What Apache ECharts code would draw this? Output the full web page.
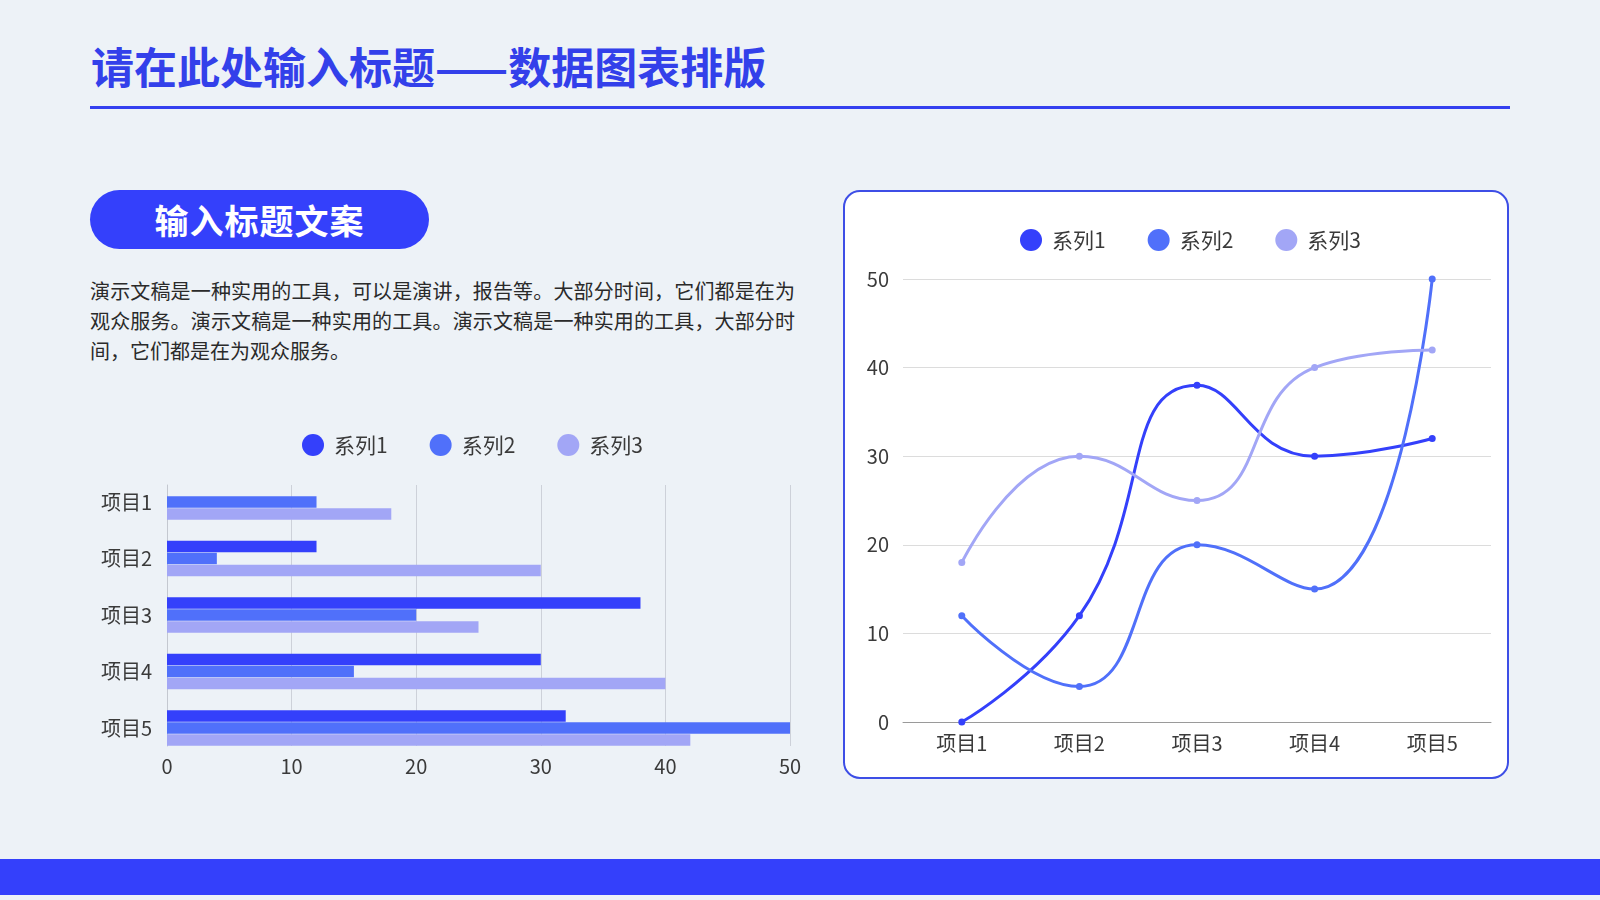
<!DOCTYPE html>
<html>
<head>
<meta charset="utf-8">
<title>数据图表排版</title>
<script src="https://cdn.jsdelivr.net/npm/echarts@6/dist/echarts.min.js"></script>
<style>
  html, body { margin: 0; padding: 0; }
  body {
    width: 1600px; height: 900px; position: relative; overflow: hidden;
    background: #edf2f7;
    font-family: "Noto Sans CJK SC", "Noto Sans", sans-serif;
  }
  .title {
    position: absolute; left: 91px; top: 44px;
    font-size: 43px; line-height: 43px; font-weight: 700;
    color: #3340ea; white-space: nowrap;
  }
  .rule { position: absolute; left: 90px; top: 106px; width: 1420px; height: 3px; background: #3440f0; }
  .pill {
    position: absolute; left: 90px; top: 190px; width: 339px; height: 59px;
    border-radius: 30px; background: #3440fb; color: #fff;
    display: flex; align-items: center; justify-content: center;
    font-size: 34px; font-weight: 700; letter-spacing: 1px;
  }
  .desc {
    position: absolute; left: 90px; top: 276px; width: 705px;
    font-size: 20px; line-height: 30px; color: #2a2a2a; text-align: justify;
    font-weight: 400;
  }
  .box {
    position: absolute; left: 843px; top: 190px; width: 662px; height: 585px;
    border: 2px solid #3d4ee6; border-radius: 17px; background: #fff;
  }
  .footer { position: absolute; left: 0; top: 859px; width: 1600px; height: 36px; background: #3440fb; }
  #chart { position: absolute; left: 0; top: 0; width: 1600px; height: 900px; }
</style>
</head>
<body>
<div class="title">请在此处输入标题——数据图表排版</div>
<div class="rule"></div>
<div class="pill">输入标题文案</div>
<div class="desc">演示文稿是一种实用的工具，可以是演讲，报告等。大部分时间，它们都是在为观众服务。演示文稿是一种实用的工具。演示文稿是一种实用的工具，大部分时间，它们都是在为观众服务。</div>
<div class="box"></div>
<div class="footer"></div>
<div id="chart"></div>
<script>
const categories = ['项目1', '项目2', '项目3', '项目4', '项目5'];
const seriesNames = ['系列1', '系列2', '系列3'];
const series1 = [0, 12, 38, 30, 32];
const series2 = [12, 4, 20, 15, 50];
const series3 = [18, 30, 25, 40, 42];
const colors = ['#3440fb', '#5070fa', '#a2a6f6'];

const font = '"Noto Sans CJK SC", "Noto Sans", sans-serif';
const labelStyle = {fontSize: 20, color: '#3a3a3a', fontFamily: font, fontWeight: 400};

let chart = echarts.init(document.getElementById('chart'));
const values = [series1, series2, series3];

let barSeries = seriesNames.map((name, i) => ({
  name: name, type: 'bar', xAxisIndex: 1, yAxisIndex: 1,
  data: values[i], barWidth: 11.3, barGap: '6%',
  itemStyle: {color: colors[i]}
}));

let lineSeries = seriesNames.map((name, i) => ({
  name: name, type: 'line', xAxisIndex: 2, yAxisIndex: 2,
  data: values[i], smooth: true, symbol: 'circle', symbolSize: 7,
  lineStyle: {width: 3, color: colors[i]},
  itemStyle: {color: colors[i]}
}));

let legendBase = {
  data: seriesNames, icon: 'circle', itemWidth: 22, itemHeight: 22, itemGap: 42,
  padding: 0,
  textStyle: Object.assign({}, labelStyle, {fontSize: 21, padding: [0, 0, 0, 5]})
};

chart.setOption({
  animation: false,
  color: colors,
  legend: [
    Object.assign({left: 302, top: 434}, legendBase),
    Object.assign({left: 1020, top: 229}, legendBase)
  ],
  grid: [
    {left: 167, top: 485, width: 623, height: 261},
    {left: 167, top: 473.75, width: 623, height: 282.5},
    {left: 903, top: 279, width: 588, height: 443}
  ],
  xAxis: [
    {
      gridIndex: 0, type: 'value', min: 0, max: 50, interval: 10,
      axisLine: {show: false}, axisTick: {show: false},
      axisLabel: Object.assign({margin: 10}, labelStyle),
      splitLine: {lineStyle: {color: '#cdd1d9', width: 1}}
    },
    {gridIndex: 1, type: 'value', min: 0, max: 50, show: false},
    {
      gridIndex: 2, type: 'category', data: categories,
      axisLine: {lineStyle: {color: '#9a9a9a', width: 1}}, axisTick: {show: false},
      axisLabel: Object.assign({margin: 11}, labelStyle)
    }
  ],
  yAxis: [
    {
      gridIndex: 0, type: 'category', data: categories,
      axisLine: {lineStyle: {color: '#c4c8d0'}}, axisTick: {show: false},
      axisLabel: {show: false}
    },
    {
      gridIndex: 1, type: 'category', data: categories, inverse: true,
      axisLine: {show: false}, axisTick: {show: false},
      axisLabel: Object.assign({margin: 15}, labelStyle)
    },
    {
      gridIndex: 2, type: 'value', min: 0, max: 50, interval: 10,
      axisLine: {show: false}, axisTick: {show: false},
      axisLabel: Object.assign({margin: 14}, labelStyle),
      splitLine: {lineStyle: {color: '#dcdcdc', width: 1}}
    }
  ],
  series: barSeries.concat(lineSeries)
});
</script>
</body>
</html>
